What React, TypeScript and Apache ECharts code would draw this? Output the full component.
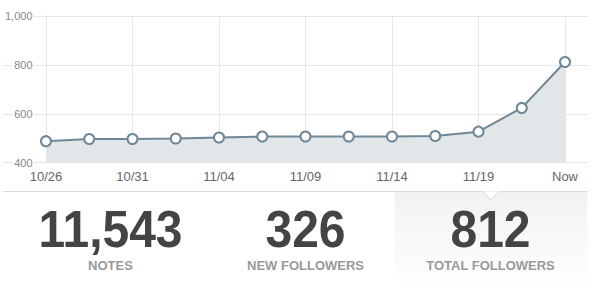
import React, { useEffect, useRef } from "react";
import * as echarts from "echarts";

const categories = ["10/26", "10/28", "10/31", "11/02", "11/04", "11/07", "11/09", "11/11", "11/14", "11/16", "11/19", "11/21", "Now"];
const followers = [488, 497, 497, 499, 503, 507, 507, 507, 507, 509, 527, 624, 812];
const yTicks = { min: 400, max: 1000, interval: 200 };
const statValues = ["11,543", "326", "812"];
const statLabels = ["NOTES", "NEW FOLLOWERS", "TOTAL FOLLOWERS"];

const FONT = "'Liberation Sans', Arial, sans-serif";
const LINE = "#6e8797";
const GRID = "#e6e6e6";

export default function App() {
  const ref = useRef<HTMLDivElement>(null);
  useEffect(() => {
    if (!ref.current) return;
    const chart = echarts.init(ref.current, undefined, { renderer: "svg" });
    const centers = [110.5, 305.5, 490.5];
    const graphics: any[] = [
      // third (selected) panel background
      {
        type: "rect",
        shape: { x: 394.5, y: 191.5, width: 193, height: 98 },
        style: {
          fill: new echarts.graphic.LinearGradient(0, 0, 0, 1, [
            { offset: 0, color: "#f2f2f2" },
            { offset: 1, color: "#ffffff" },
          ]),
        },
        z: 1,
      },
      {
        type: "line",
        shape: { x1: 394.5, y1: 191.5, x2: 394.5, y2: 289 },
        style: {
          stroke: new echarts.graphic.LinearGradient(0, 0, 0, 1, [
            { offset: 0, color: "#d8d8d8" },
            { offset: 1, color: "#f4f4f4" },
          ]),
          lineWidth: 1,
        },
        z: 2,
      },
      {
        type: "line",
        shape: { x1: 587.5, y1: 191.5, x2: 587.5, y2: 289 },
        style: {
          stroke: new echarts.graphic.LinearGradient(0, 0, 0, 1, [
            { offset: 0, color: "#d8d8d8" },
            { offset: 1, color: "#f4f4f4" },
          ]),
          lineWidth: 1,
        },
        z: 2,
      },
      // divider between first and second panel
      {
        type: "line",
        shape: { x1: 218.5, y1: 191.5, x2: 218.5, y2: 289 },
        style: {
          stroke: new echarts.graphic.LinearGradient(0, 0, 0, 1, [
            { offset: 0, color: "#dcdcdc" },
            { offset: 1, color: "#ffffff" },
          ]),
          lineWidth: 1,
        },
        z: 2,
      },
      // top border
      {
        type: "line",
        shape: { x1: 3, y1: 191.5, x2: 588, y2: 191.5 },
        style: { stroke: "#dcdcdc", lineWidth: 1 },
        z: 3,
      },
      // notch
      {
        type: "polygon",
        shape: { points: [[482.5, 191.5], [491, 199.5], [499.5, 191.5]] },
        style: { fill: "#ffffff", stroke: "none" },
        z: 4,
      },
      {
        type: "polyline",
        shape: { points: [[482.5, 191.5], [491, 199.5], [499.5, 191.5]] },
        style: { stroke: "#d8d8d8", lineWidth: 1, fill: "none" },
        z: 5,
      },
    ];
    statValues.forEach((v, i) => {
      graphics.push({
        type: "text",
        x: centers[i],
        y: 229,
        scaleY: 1.07,
        z: 6,
        style: {
          text: v,
          x: 0,
          y: 0,
          align: "center",
          verticalAlign: "middle",
          font: `bold 48px ${FONT}`,
          fill: "#444444",
        },
      });
      graphics.push({
        type: "text",
        x: centers[i],
        y: 265.5,
        z: 6,
        style: {
          text: statLabels[i],
          x: 0,
          y: 0,
          align: "center",
          verticalAlign: "middle",
          font: `bold 13px ${FONT}`,
          fill: "#9a9a9a",
        },
      });
    });

    chart.setOption({
      animation: false,
      grid: [
        { left: 3, right: 4, top: 16, bottom: 126.3 },
        { left: 46, right: 27, top: 16, bottom: 126.3 },
      ],
      xAxis: [
        { gridIndex: 0, type: "value", show: false, min: 0, max: 1 },
        {
          gridIndex: 1,
          type: "category",
          data: categories,
          boundaryGap: false,
          axisLine: { show: false },
          axisTick: { show: false },
          splitLine: { show: true, lineStyle: { color: GRID, width: 1 } },
          axisLabel: {
            interval: 1,
            color: "#666666",
            fontSize: 13,
            fontFamily: FONT,
            margin: 7,
          },
        },
      ],
      yAxis: [
        {
          gridIndex: 0,
          type: "value",
          min: yTicks.min,
          max: yTicks.max,
          interval: yTicks.interval,
          axisLine: { show: false },
          axisTick: { show: false },
          splitLine: { show: true, lineStyle: { color: GRID, width: 1 } },
          axisLabel: {
            inside: true,
            align: "right",
            margin: 31,
            color: "#888888",
            fontSize: 11,
            fontFamily: FONT,
            backgroundColor: "#ffffff",
            padding: [0, 2, 0, 2],
            formatter: (v: number) => v.toLocaleString("en-US"),
          },
        },
        {
          gridIndex: 1,
          type: "value",
          min: yTicks.min,
          max: yTicks.max,
          interval: yTicks.interval,
          show: false,
          splitLine: { show: false },
        },
      ],
      series: [
        {
          type: "line",
          xAxisIndex: 1,
          yAxisIndex: 1,
          data: followers,
          symbol: "circle",
          symbolSize: 10,
          showAllSymbol: true,
          lineStyle: { color: LINE, width: 2 },
          itemStyle: { color: "#ffffff", borderColor: LINE, borderWidth: 2 },
          areaStyle: { color: "#e1e6e9", opacity: 1 },
          z: 3,
        },
      ],
      graphic: graphics,
    });
    return () => chart.dispose();
  }, []);
  return (
    <div
      ref={ref}
      style={{ position: "absolute", left: 0, top: 0, width: 592, height: 289, background: "#fff" }}
    />
  );
}
